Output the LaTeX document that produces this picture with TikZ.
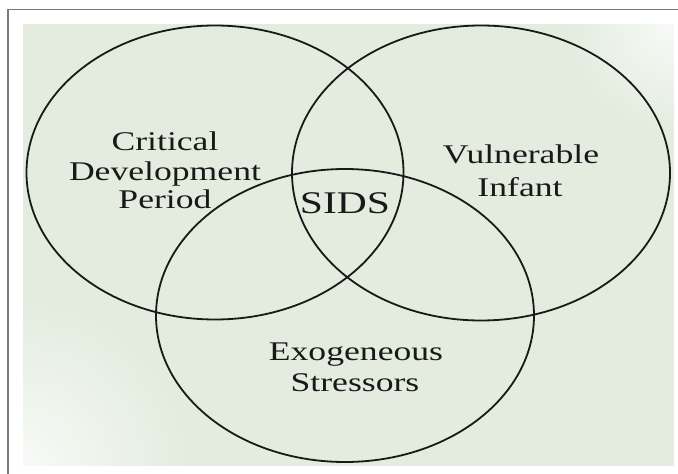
\documentclass[tikz,border=0pt]{standalone}
\usepackage{fontspec}
\setmainfont{Liberation Serif}
\usetikzlibrary{fadings}
\definecolor{bggreen}{HTML}{E3ECDF}
\definecolor{framegray}{HTML}{7A7A7A}
\tikzfading[name=cornerfade, inner color=transparent!25, outer color=transparent!100]
\tikzset{
  venn/.style={draw=black!90, line width=1.8pt},
  lbl/.style={font=\fontsize{27}{29}\selectfont, xscale=1.32, anchor=base, inner sep=0pt, text=black!90},
  big/.style={font=\fontsize{31.5}{34}\selectfont, xscale=1.32, anchor=base, inner sep=0pt, text=black!90}
}
\begin{document}
\begin{tikzpicture}[x=1pt, y=-1pt]
\useasboundingbox (0,0) rectangle (678,474);
\fill[white] (0,0) rectangle (678,474);
% frame lines (top and left)
\draw[framegray, line width=1.6pt] (8,474) -- (8,9.3) -- (678,9.3);
% background panel
\fill[bggreen] (23,24) rectangle (674,466);
\begin{scope}
  \clip (23,24) rectangle (674,466);
  \fill[white, path fading=cornerfade] (23,466) circle (170);
  \fill[white, path fading=cornerfade] (674,24) circle (110);
\end{scope}
% ellipses
\draw[venn] (215,172.5) ellipse (188.5 and 147) coordinate (A);
\draw[venn] (481,173) ellipse (189 and 147.5) coordinate (B);
\draw[venn] (345,315.5) ellipse (189 and 146.5) coordinate (C);
% labels
\node[lbl] (c1) at (165,150) {Critical};
\node[lbl] (c2) at (165,180) {Development};
\node[lbl] (c3) at (165,208) {Period};
\node[lbl] (v1) at (521,163) {Vulnerable};
\node[lbl] (v2) at (520,196) {Infant};
\node[lbl] (e1) at (356,360) {Exogeneous};
\node[lbl] (e2) at (355,391) {Stressors};
\node[big] (s) at (345,213) {SIDS};
\end{tikzpicture}
\end{document}
